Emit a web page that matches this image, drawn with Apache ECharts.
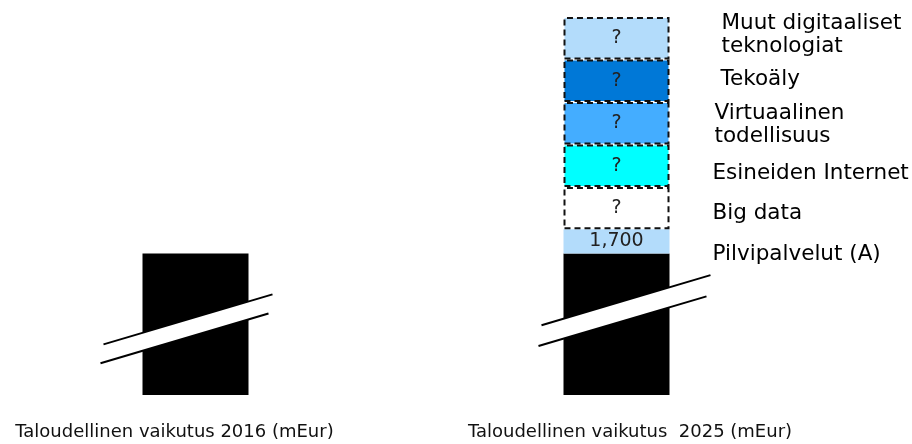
<!DOCTYPE html>
<html>
<head>
<meta charset="utf-8">
<script src="https://cdn.jsdelivr.net/npm/echarts@6/dist/echarts.min.js"></script>
<style>
  html, body { margin: 0; padding: 0; background: #ffffff; }
  #chart { width: 912px; height: 444px; }
</style>
</head>
<body>
<div id="chart"></div>
<script>
// ---- data ----
const categories = ['Taloudellinen vaikutus 2016 (mEur)', 'Taloudellinen vaikutus  2025 (mEur)'];
// visual height of the (axis-broken) black base bars
const baseValues = [10000, 10000];
// 2025 stacked segments, bottom to top
const segmentNames = ['Pilvipalvelut (A)', 'Big data', 'Esineiden Internet', 'Virtuaalinen\ntodellisuus', 'Tekoäly', 'Muut digitaaliset\nteknologiat'];
const segmentValues2025 = [1700, 3000, 3000, 3000, 3000, 3000];
const segmentLabels = ['1,700', '?', '?', '?', '?', '?'];
// where the break marks cross each bar (value units)
const breakValues = [5500, 6500];

// ---- styles ----
const FONT = 'DejaVu Sans';
const segmentColors = ['#b3dcfb', '#ffffff', '#00ffff', '#44adff', '#0078d7', '#b3dcfb'];
const segmentDashed = [false, true, true, true, true, true];
const nameOffsets = [[43, 13], [43, 5], [43, 8], [45, 2], [51, -1], [52, -3.5]]; // [dx from bar edge, dy from segment centre]
const breakExtents = [[-92, 77, 18], [-75, 94, 20]]; // [left dx, right dx, gap]
const BAR_W = 106;
const yMax = baseValues[1] + segmentValues2025.reduce((a, b) => a + b, 0);

const series = [];
series.push({
  name: 'base', type: 'bar', stack: 'total', barWidth: BAR_W, clip: false,
  data: baseValues,
  itemStyle: { color: '#000000' },
  silent: true
});
segmentValues2025.forEach((v, i) => {
  series.push({
    name: segmentNames[i], type: 'bar', stack: 'total', barWidth: BAR_W, clip: false,
    data: ['-', v],
    itemStyle: segmentDashed[i]
      ? { color: segmentColors[i], borderColor: '#111111', borderWidth: 2, borderType: [6, 4] }
      : { color: segmentColors[i], borderWidth: 0 },
    label: {
      show: true, position: 'inside', formatter: () => segmentLabels[i],
      fontFamily: FONT, fontSize: 19, color: '#222222'
    },
    silent: true
  });
});

// names to the right of the 2025 stack
const nameData = [];
let acc = baseValues[1];
segmentValues2025.forEach((v, i) => {
  nameData.push([1, acc + v / 2, i]);
  acc += v;
});
series.push({
  type: 'custom', name: 'names', silent: true, z: 5,
  encode: { x: 0, y: 1 },
  data: nameData,
  renderItem: function (params, api) {
    const i = api.value(2);
    const p = api.coord([api.value(0), api.value(1)]);
    return {
      type: 'text',
      style: {
        text: segmentNames[i],
        x: p[0] + BAR_W / 2 + nameOffsets[i][0],
        y: p[1] + nameOffsets[i][1],
        fill: '#000000',
        font: '21.5px "' + FONT + '"',
        lineHeight: 23,
        align: 'left',
        verticalAlign: 'middle'
      }
    };
  }
});

// axis-break marks
series.push({
  type: 'custom', name: 'breaks', silent: true, z: 6,
  encode: { x: 0, y: 1 },
  data: breakValues.map((v, i) => [i, v]),
  renderItem: function (params, api) {
    const idx = api.value(0);
    const c = api.coord([idx, api.value(1)]);
    const ext = breakExtents[idx];
    const slope = -0.296;
    const x1 = c[0] + ext[0], x2 = c[0] + ext[1];
    const y1 = c[1] + slope * ext[0], y2 = c[1] + slope * ext[1];
    const g = ext[2];
    const lx1 = x1 - 3, lx2 = x2 - 4;
    const ly1 = c[1] + slope * (ext[0] - 3) + g, ly2 = c[1] + slope * (ext[1] - 4) + g;
    return {
      type: 'group',
      children: [
        { type: 'polygon', shape: { points: [[x1, y1], [x2, y2], [lx2, ly2], [lx1, ly1]] }, style: { fill: '#ffffff' } },
        { type: 'line', shape: { x1: x1, y1: y1, x2: x2, y2: y2 }, style: { stroke: '#000000', lineWidth: 2 } },
        { type: 'line', shape: { x1: lx1, y1: ly1, x2: lx2, y2: ly2 }, style: { stroke: '#000000', lineWidth: 2 } }
      ]
    };
  }
});

const chart = echarts.init(document.getElementById('chart'), null, { renderer: 'canvas' });
chart.setOption({
  animation: false,
  backgroundColor: '#ffffff',
  grid: { left: 195.5, right: 295.5, top: 17, bottom: 49, containLabel: false },
  xAxis: {
    type: 'category', data: categories, boundaryGap: false,
    axisLine: { show: false }, axisTick: { show: false }, splitLine: { show: false },
    axisLabel: {
      interval: 0, margin: 28, hideOverlap: false,
      formatter: (v, i) => (i === 0 ? '{a|' + v + '}' : '{b|' + v + '}'),
      rich: {
        a: { fontFamily: FONT, fontSize: 18, color: '#111111', padding: [0, 42, 0, 0] },
        b: { fontFamily: FONT, fontSize: 18, color: '#111111', padding: [0, 0, 0, 27] }
      }
    }
  },
  yAxis: {
    type: 'value', min: 0, max: yMax, show: false,
    splitLine: { show: false }
  },
  series: series
});
</script>
</body>
</html>
